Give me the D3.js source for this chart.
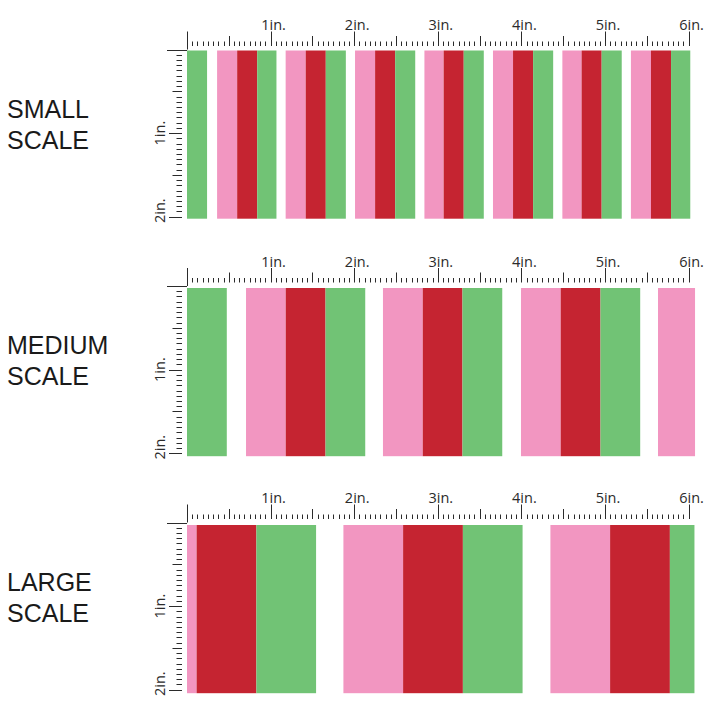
<!DOCTYPE html>
<html>
<head>
<meta charset="utf-8">
<script src="https://cdn.jsdelivr.net/npm/d3@7/dist/d3.min.js"></script>
<style>
  html, body { margin: 0; padding: 0; background: #fff; }
  svg { display: block; }
</style>
</head>
<body>
<div id="chart"></div>
<script>
// ---------- DATA ----------
const panelNames = ["SMALL", "MEDIUM", "LARGE"];
const panelSubtitle = "SCALE";

// stripes: [start inch, end inch, colour key]
const smallStripes = [
  [0.00, 0.24, "G"],
  [0.36, 0.60, "P"], [0.60, 0.84, "R"], [0.84, 1.07, "G"],
  [1.18, 1.42, "P"], [1.42, 1.66, "R"], [1.66, 1.90, "G"],
  [2.01, 2.25, "P"], [2.25, 2.49, "R"], [2.49, 2.73, "G"],
  [2.84, 3.07, "P"], [3.07, 3.31, "R"], [3.31, 3.55, "G"],
  [3.66, 3.90, "P"], [3.90, 4.14, "R"], [4.14, 4.38, "G"],
  [4.49, 4.72, "P"], [4.72, 4.96, "R"], [4.96, 5.20, "G"],
  [5.31, 5.55, "P"], [5.55, 5.79, "R"], [5.79, 6.02, "G"]
];
const mediumStripes = [
  [0.000, 0.476, "G"],
  [0.706, 1.181, "P"], [1.181, 1.657, "R"], [1.657, 2.132, "G"],
  [2.344, 2.820, "P"], [2.820, 3.295, "R"], [3.295, 3.771, "G"],
  [3.995, 4.470, "P"], [4.470, 4.946, "R"], [4.946, 5.421, "G"],
  [5.634, 6.077, "P"]
];
const largeStripes = [
  [0.000, 0.115, "P"], [0.115, 0.830, "R"], [0.830, 1.544, "G"],
  [1.871, 2.585, "P"], [2.585, 3.300, "R"], [3.300, 4.014, "G"],
  [4.347, 5.061, "P"], [5.061, 5.776, "R"], [5.776, 6.070, "G"]
];
const stripeSets = [smallStripes, mediumStripes, largeStripes];

const colorKeys = ["G", "P", "R"];
const colorValues = ["#71c375", "#f296c1", "#c52431"];

const hTickValues = [1, 2, 3, 4, 5, 6];
const hTickLabels = ["1in.", "2in.", "3in.", "4in.", "5in.", "6in."];
const vTickValues = [1, 2];
const vTickLabels = ["1in.", "2in."];
const rulerWidthIn = 6;
const rulerHeightIn = 2;
const ticksPerInch = 16;

// ---------- LAYOUT ----------
const W = 720, H = 720;
const ox = 187;
const inchPx = 83.6;
const panelTops = [49.5, 286, 522.5];
const stripeOffsets = [1, 2, 2.5];
const ink = "#2b2b2b";

const color = d3.scaleOrdinal().domain(colorKeys).range(colorValues);
const x = d3.scaleLinear().domain([0, rulerWidthIn]).range([ox, ox + rulerWidthIn * inchPx]);

const svg = d3.select("#chart").append("svg").attr("width", W).attr("height", H);
const crisp = v => Math.round(v) + 0.5;

const tickIdx = d3.range(0, rulerWidthIn * ticksPerInch + 1);
const vTickIdx = d3.range(0, rulerHeightIn * ticksPerInch + 1);

panelNames.forEach((name, i) => {
  const oy = panelTops[i];
  const y = d3.scaleLinear().domain([0, rulerHeightIn]).range([oy, oy + rulerHeightIn * inchPx]);
  const g = svg.append("g");

  // stripes
  g.selectAll("rect.stripe").data(stripeSets[i]).join("rect")
    .attr("class", "stripe")
    .attr("x", d => x(d[0]))
    .attr("width", d => x(d[1]) - x(d[0]))
    .attr("y", y(0) + stripeOffsets[i])
    .attr("height", y(rulerHeightIn) - y(0) + 1)
    .attr("fill", d => color(d[2]));

  // top ruler
  const base = oy - 3.5;
  g.selectAll("line.ht").data(tickIdx).join("line")
    .attr("class", "ht")
    .attr("x1", d => crisp(x(d / ticksPerInch)))
    .attr("x2", d => crisp(x(d / ticksPerInch)))
    .attr("y1", d => d === 0 ? oy : base)
    .attr("y2", d => d % ticksPerInch === 0 ? base - 14.5 : (d % (ticksPerInch / 2) === 0 ? base - 10 : base - 4.5))
    .attr("stroke", ink).attr("stroke-width", 1);

  g.selectAll("text.hl").data(hTickValues).join("text")
    .attr("class", "hl")
    .attr("x", d => x(d) + 3)
    .attr("y", oy - 19.5)
    .attr("text-anchor", "middle")
    .attr("font-family", "'Open Sans', sans-serif")
    .attr("font-size", 14.5)
    .attr("fill", ink)
    .text((d, j) => hTickLabels[j]);

  // left ruler
  const right = ox - 5;
  g.selectAll("line.vt").data(vTickIdx).join("line")
    .attr("class", "vt")
    .attr("y1", d => crisp(y(d / ticksPerInch)))
    .attr("y2", d => crisp(y(d / ticksPerInch)))
    .attr("x1", d => d === 0 ? ox : right)
    .attr("x2", d => d === 0 ? ox - 20 : (d % ticksPerInch === 0 ? right - 13 : (d % (ticksPerInch / 2) === 0 ? right - 9.5 : right - 5.5)))
    .attr("stroke", ink).attr("stroke-width", 1);

  g.selectAll("text.vl").data(vTickValues).join("text")
    .attr("class", "vl")
    .attr("transform", (d, j) => `translate(${ox - 22},${y(d) - (j === vTickValues.length - 1 ? 6 : 0)}) rotate(-90)`)
    .attr("text-anchor", "middle")
    .attr("font-family", "'Open Sans', sans-serif")
    .attr("font-size", 14.5)
    .attr("fill", ink)
    .text((d, j) => vTickLabels[j]);

  // panel name
  const t = g.append("text")
    .attr("font-family", "'Liberation Sans', Arial, sans-serif")
    .attr("font-size", 25)
    .attr("fill", "#1a1a1a");
  t.append("tspan").attr("x", 7).attr("y", oy + 68).text(name);
  t.append("tspan").attr("x", 7).attr("y", oy + 99).text(panelSubtitle);
});
</script>
</body>
</html>
